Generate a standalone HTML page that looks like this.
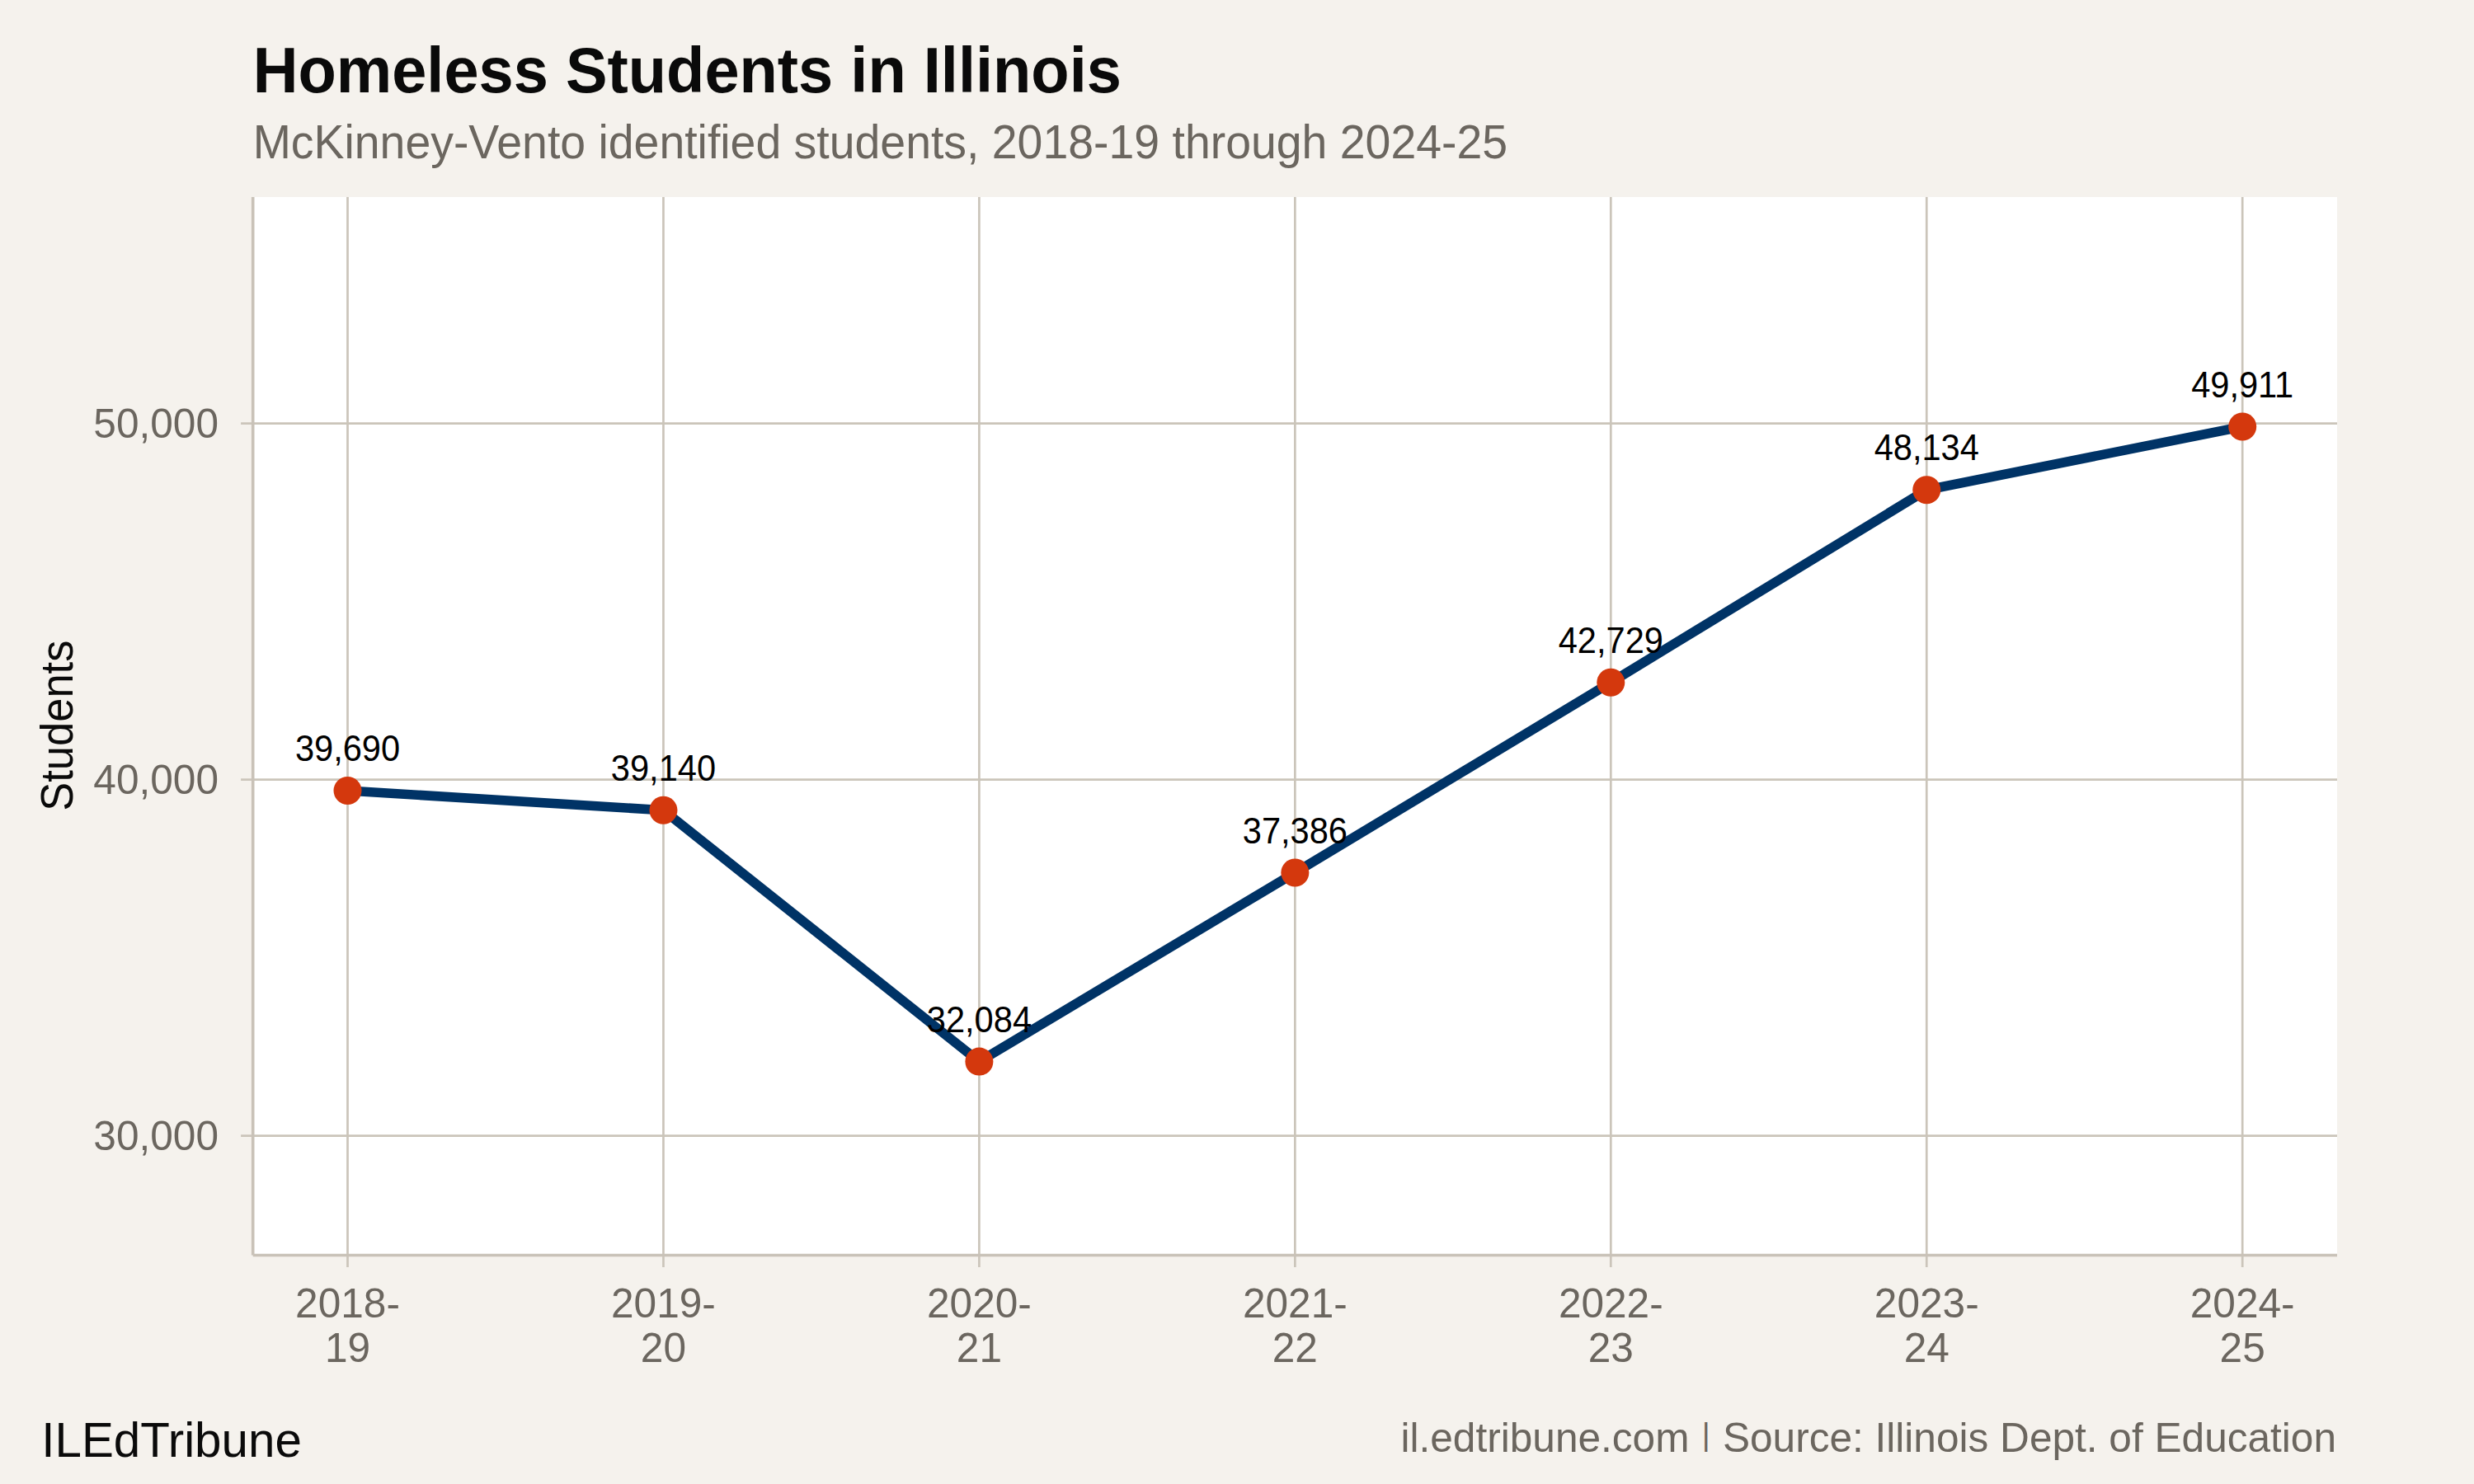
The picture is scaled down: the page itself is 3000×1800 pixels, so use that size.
<!DOCTYPE html>
<html lang="en"><head><meta charset="utf-8"><title>Homeless Students in Illinois</title>
<style>
html,body{margin:0;padding:0;background:#F5F2ED;}
body{width:3000px;height:1800px;overflow:hidden;}
svg{display:block;}
text{font-family:"Liberation Sans",Arial,Helvetica,sans-serif;}
.g{fill:#6B665F;}
.ax{font-size:49.58px;}
.lb{font-size:41.6px;fill:#000;text-anchor:middle;}
</style></head><body>
<svg width="3000" height="1800" viewBox="0 0 3000 1800">
<rect x="0" y="0" width="3000" height="1800" fill="#F5F2ED"/>
<rect x="306.7" y="239.0" width="2527.3" height="1283.5" fill="#FFFFFF"/>
<g stroke="#CBC5BA" stroke-width="2.7" fill="none">
<line x1="421.50" y1="239.0" x2="421.50" y2="1537.10"/>
<line x1="804.45" y1="239.0" x2="804.45" y2="1537.10"/>
<line x1="1187.40" y1="239.0" x2="1187.40" y2="1537.10"/>
<line x1="1570.35" y1="239.0" x2="1570.35" y2="1537.10"/>
<line x1="1953.30" y1="239.0" x2="1953.30" y2="1537.10"/>
<line x1="2336.25" y1="239.0" x2="2336.25" y2="1537.10"/>
<line x1="2719.20" y1="239.0" x2="2719.20" y2="1537.10"/>
<line x1="292.10" y1="513.65" x2="2834.0" y2="513.65"/>
<line x1="292.10" y1="945.65" x2="2834.0" y2="945.65"/>
<line x1="292.10" y1="1377.65" x2="2834.0" y2="1377.65"/>
</g>
<polyline points="421.50,959.04 804.45,982.80 1187.40,1287.62 1570.35,1058.57 1953.30,827.76 2336.25,594.26 2719.20,517.49" fill="none" stroke="#003366" stroke-width="11.6" stroke-linejoin="round" stroke-linecap="butt"/>
<g fill="#D4380D">
<circle cx="421.50" cy="959.04" r="17"/>
<circle cx="804.45" cy="982.80" r="17"/>
<circle cx="1187.40" cy="1287.62" r="17"/>
<circle cx="1570.35" cy="1058.57" r="17"/>
<circle cx="1953.30" cy="827.76" r="17"/>
<circle cx="2336.25" cy="594.26" r="17"/>
<circle cx="2719.20" cy="517.49" r="17"/>
</g>
<text class="lb" transform="translate(421.50,923.24) scale(1,1.05)">39,690</text>
<text class="lb" transform="translate(804.45,947.00) scale(1,1.05)">39,140</text>
<text class="lb" transform="translate(1187.40,1251.82) scale(1,1.05)">32,084</text>
<text class="lb" transform="translate(1570.35,1022.77) scale(1,1.05)">37,386</text>
<text class="lb" transform="translate(1953.30,791.96) scale(1,1.05)">42,729</text>
<text class="lb" transform="translate(2336.25,558.46) scale(1,1.05)">48,134</text>
<text class="lb" transform="translate(2719.20,481.69) scale(1,1.05)">49,91<tspan dx="-3.1">1</tspan></text>
<g stroke="#C9C2B8" stroke-width="3.6" fill="none"><line x1="306.7" y1="239.0" x2="306.7" y2="1522.5"/><line x1="306.7" y1="1522.5" x2="2834.0" y2="1522.5"/></g>
<text class="g ax" text-anchor="end" x="265.0" y="531.25">50,000</text>
<text class="g ax" text-anchor="end" x="265.0" y="963.25">40,000</text>
<text class="g ax" text-anchor="end" x="265.0" y="1395.25">30,000</text>
<text class="g ax" text-anchor="middle" x="421.50" y="1598.2">2018-</text>
<text class="g ax" text-anchor="middle" x="421.50" y="1652.3">19</text>
<text class="g ax" text-anchor="middle" x="804.45" y="1598.2">2019-</text>
<text class="g ax" text-anchor="middle" x="804.45" y="1652.3">20</text>
<text class="g ax" text-anchor="middle" x="1187.40" y="1598.2">2020-</text>
<text class="g ax" text-anchor="middle" x="1187.40" y="1652.3">21</text>
<text class="g ax" text-anchor="middle" x="1570.35" y="1598.2">2021-</text>
<text class="g ax" text-anchor="middle" x="1570.35" y="1652.3">22</text>
<text class="g ax" text-anchor="middle" x="1953.30" y="1598.2">2022-</text>
<text class="g ax" text-anchor="middle" x="1953.30" y="1652.3">23</text>
<text class="g ax" text-anchor="middle" x="2336.25" y="1598.2">2023-</text>
<text class="g ax" text-anchor="middle" x="2336.25" y="1652.3">24</text>
<text class="g ax" text-anchor="middle" x="2719.20" y="1598.2">2024-</text>
<text class="g ax" text-anchor="middle" x="2719.20" y="1652.3">25</text>
<text transform="translate(88.2,880.2) rotate(-90) scale(1,1.07)" text-anchor="middle" font-size="52.5" fill="#0A0A0A">Students</text>
<text transform="translate(306.7,112.3) scale(1,1.025)" font-size="75.83" font-weight="bold" fill="#0A0A0A">Homeless Students in Illinois</text>
<text class="g" transform="translate(306.7,192) scale(1,1.04)" font-size="55.42">McKinney-Vento identified students, 2018-19 through 2024-25</text>
<text transform="translate(50.3,1766.8) scale(1,1.03)" font-size="58.33" fill="#0A0A0A">ILEdTribune</text>
<text class="g" x="2833" y="1761.1" font-size="49.58" text-anchor="end">il.edtribune.com <tspan font-size="38.4" dx="1.45" dy="-8.1">|</tspan><tspan dx="1.45" dy="8.1"> Source: Illinois Dept. of Education</tspan></text>
</svg></body></html>
